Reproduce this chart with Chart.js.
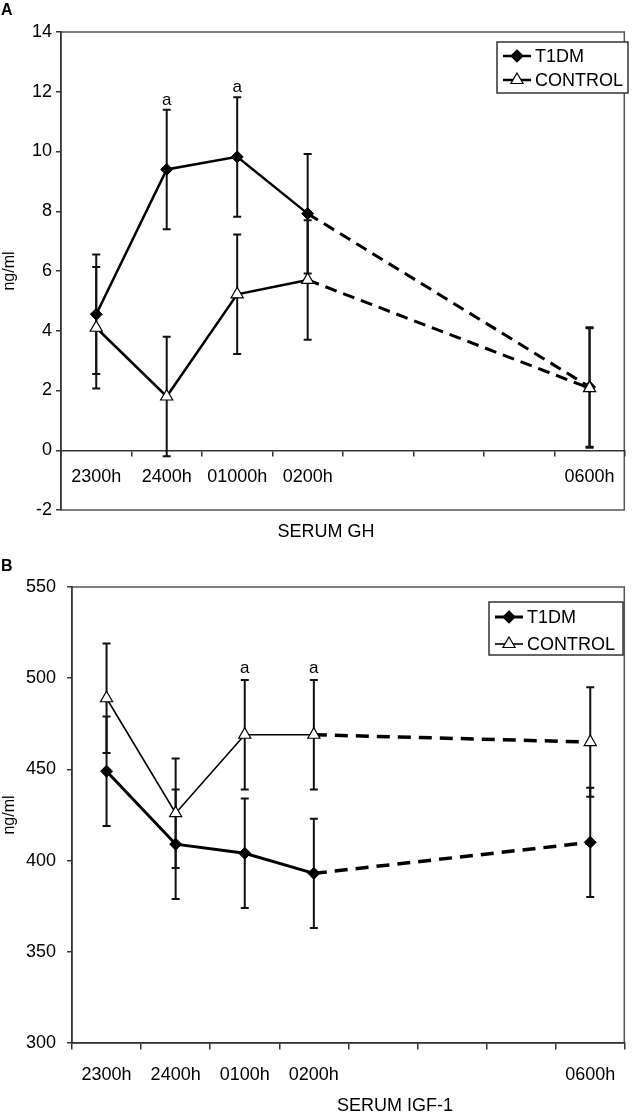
<!DOCTYPE html>
<html>
<head>
<meta charset="utf-8">
<script src="https://cdn.jsdelivr.net/npm/chart.js@4.4.0/dist/chart.umd.min.js"></script>
<style>
html, body { margin: 0; padding: 0; background: #fff; }
#wrap { position: relative; width: 633px; height: 1113px; overflow: hidden; }
.panel { position: absolute; left: 0; width: 633px; }
.tag { position: absolute; left: 1px; font: bold 16px "Liberation Sans", Arial, sans-serif; color: #000; }
</style>
</head>
<body>
<div id="wrap">
  <div class="panel" style="top:0;height:556px"><canvas id="ghChart" width="633" height="556"></canvas></div>
  <div class="panel" style="top:556px;height:557px"><canvas id="igfChart" width="633" height="557"></canvas></div>
  <div class="tag" style="top:1px">A</div>
  <div class="tag" style="top:557px">B</div>
</div>
<script>
// hours 2300h .. 0600h, one category per hour (0300h-0500h unlabeled, no samples)
const ghLabels = ['2300h', '2400h', '01000h', '0200h', '', '', '', '0600h'];
const igfLabels = ['2300h', '2400h', '0100h', '0200h', '', '', '', '0600h'];

const ghT1dm = [4.55, 9.4, 9.82, 7.92, null, null, null, 2.12];
const ghT1dmErr = [2.0, 2.0, 2.0, 2.0, null, null, null, 2.0];
const ghControl = [4.1, 1.8, 5.22, 5.7, null, null, null, 2.08];
const ghControlErr = [2.03, 2.0, 2.0, 2.0, null, null, null, 2.0];
const ghMarks = [null, 'a', 'a', null, null, null, null, null];      // on T1DM

const igfT1dm = [449, 409, 404, 393, null, null, null, 410];
const igfT1dmErr = [30, 30, 30, 30, null, null, null, 30];
const igfControl = [489, 426, 469, 469, null, null, null, 465];
const igfControlErr = [30, 30, 30, 30, null, null, null, 30];
const igfMarks = [null, null, 'a', 'a', null, null, null, null];     // on CONTROL

const FONT = '"Liberation Sans", Arial, sans-serif';

// a segment that jumps over missing hours is drawn dashed
const acrossGap = (data, a, b) => c => (data[c.p1DataIndex - 1] == null ? a : b);

const errorBars = {
    id: 'errorBars',
    beforeDatasetsDraw(chart) {
        const { ctx, scales: { x, y } } = chart;
        ctx.save();
        ctx.strokeStyle = '#111';
        ctx.setLineDash([]);
        chart.data.datasets.forEach(ds => {
            ctx.lineWidth = ds.errWidth || 2;
            const cap = ds.capHalf || 4;
            ds.data.forEach((v, i) => {
                const e = ds.errors ? ds.errors[i] : null;
                if (v == null || e == null) return;
                const px = x.getPixelForValue(i);
                const top = y.getPixelForValue(v + e);
                const bot = y.getPixelForValue(v - e);
                ctx.beginPath();
                ctx.moveTo(px, top); ctx.lineTo(px, bot);
                ctx.moveTo(px - cap, top); ctx.lineTo(px + cap, top);
                ctx.moveTo(px - cap, bot); ctx.lineTo(px + cap, bot);
                ctx.stroke();
            });
        });
        ctx.restore();
    },
    afterDatasetsDraw(chart) {
        const { ctx, scales: { x, y } } = chart;
        ctx.save();
        ctx.fillStyle = '#000';
        ctx.font = '17px ' + FONT;
        ctx.textAlign = 'center';
        ctx.textBaseline = 'alphabetic';
        chart.data.datasets.forEach(ds => {
            if (!ds.marks) return;
            ds.marks.forEach((m, i) => {
                if (!m) return;
                const px = x.getPixelForValue(i);
                const top = y.getPixelForValue(ds.data[i] + ds.errors[i]);
                ctx.fillText(m, px, top - ds.markGap);
            });
        });
        ctx.restore();
    }
};

function drawSymbol(ctx, style, cx, cy, r) {
    ctx.beginPath();
    if (style === 'rectRot') {
        ctx.moveTo(cx, cy - r); ctx.lineTo(cx + r, cy); ctx.lineTo(cx, cy + r); ctx.lineTo(cx - r, cy);
    } else {
        ctx.moveTo(cx, cy - r); ctx.lineTo(cx + r * 0.87, cy + r * 0.5); ctx.lineTo(cx - r * 0.87, cy + r * 0.5);
    }
    ctx.closePath();
}

const decor = {
    id: 'decor',
    beforeDraw(chart) {
        const { ctx, chartArea: a } = chart;
        ctx.save();
        ctx.strokeStyle = '#555';
        ctx.lineWidth = 1.5;
        ctx.strokeRect(a.left, a.top, a.right - a.left - 0.5, a.bottom - a.top);
        ctx.restore();
    },
    afterDraw(chart, args, opts) {
        const { ctx } = chart;
        ctx.save();
        // axis title
        ctx.fillStyle = '#000';
        ctx.font = '18px ' + FONT;
        ctx.textAlign = 'center';
        ctx.textBaseline = 'middle';
        ctx.fillText(opts.xTitle, opts.xTitleX, opts.xTitleY);
        // legend
        const b = opts.box;
        ctx.fillStyle = '#fff';
        ctx.fillRect(b.x, b.y, b.w, b.h);
        ctx.strokeStyle = '#333';
        ctx.lineWidth = 1.5;
        ctx.strokeRect(b.x, b.y, b.w, b.h);
        chart.data.datasets.forEach((ds, i) => {
            const cy = b.y + b.row0 + i * b.rowGap;
            const x0 = b.x + 6, x1 = b.x + 34;
            ctx.strokeStyle = '#000';
            ctx.lineWidth = ds.borderWidth;
            ctx.beginPath(); ctx.moveTo(x0, cy); ctx.lineTo(x1, cy); ctx.stroke();
            ctx.lineWidth = 1.2;
            ctx.fillStyle = ds.pointBackgroundColor;
            drawSymbol(ctx, ds.pointStyle, (x0 + x1) / 2, cy, ds.pointStyle === 'rectRot' ? 6 : 7);
            ctx.fill(); ctx.stroke();
            ctx.fillStyle = '#000';
            ctx.font = '18px ' + FONT;
            ctx.textAlign = 'left';
            ctx.textBaseline = 'middle';
            ctx.fillText(ds.label, x1 + 4, cy + 1);
        });
        ctx.restore();
    }
};

function axisOpts(cfg) {
    return {
        x: {
            type: 'category',
            position: { y: cfg.min },
            offset: true,
            grid: { offset: true, drawOnChartArea: false, drawTicks: true, tickLength: cfg.xTick, color: '#333', lineWidth: 1.5 },
            border: { color: '#333', width: 1.5 },
            ticks: { color: '#000', font: { family: FONT, size: 18 }, padding: cfg.xPad, maxRotation: 0, autoSkip: false }
        },
        y: {
            min: cfg.yMin, max: cfg.yMax,
            grid: { drawOnChartArea: false, drawTicks: true, tickLength: 5, color: '#333', lineWidth: 1.5 },
            border: { color: '#333', width: 1.5 },
            ticks: { stepSize: cfg.step, color: '#000', font: { family: FONT, size: 18 }, padding: cfg.yPad },
            title: { display: true, text: 'ng/ml', color: '#000', font: { family: FONT, size: 16 }, padding: 0 },
            afterFit(scale) { scale.width = cfg.yWidth; }
        }
    };
}

function initGhChart() {
    const ctx = document.getElementById('ghChart').getContext('2d');
    new Chart(ctx, {
        type: 'line',
        data: {
            labels: ghLabels,
            datasets: [{
                label: 'T1DM', data: ghT1dm, errors: ghT1dmErr, marks: ghMarks, markGap: 5, order: 1,
                borderColor: '#000', borderWidth: 2.5, spanGaps: true,
                segment: { borderDash: acrossGap(ghT1dm, [12, 7], undefined), borderWidth: acrossGap(ghT1dm, 3, 2.5) },
                pointStyle: 'rectRot', pointRadius: 6, pointBackgroundColor: '#000', pointBorderColor: '#000', pointBorderWidth: 1,
                errWidth: 2, capHalf: 4
            }, {
                label: 'CONTROL', data: ghControl, errors: ghControlErr, order: 0,
                borderColor: '#000', borderWidth: 2.5, spanGaps: true,
                segment: { borderDash: acrossGap(ghControl, [12, 7], undefined), borderWidth: acrossGap(ghControl, 3, 2.5) },
                pointStyle: 'triangle', pointRadius: 7, pointBackgroundColor: '#fff', pointBorderColor: '#000', pointBorderWidth: 1.2,
                errWidth: 2, capHalf: 4
            }]
        },
        options: {
            responsive: false,
            animation: false,
            layout: { padding: { top: 32, right: 1, bottom: 46, left: 0 } },
            plugins: {
                legend: { display: false },
                tooltip: { enabled: false },
                decor: { xTitle: 'SERUM GH', xTitleX: 326, xTitleY: 532, box: { x: 497, y: 42, w: 131, h: 51, row0: 14, rowGap: 24 } }
            },
            scales: axisOpts({ min: 0, yMin: -2, yMax: 14, step: 2, xTick: 5, xPad: 11, yPad: 4, yWidth: 61 })
        },
        plugins: [errorBars, decor]
    });
}

function initIgfChart() {
    const ctx = document.getElementById('igfChart').getContext('2d');
    new Chart(ctx, {
        type: 'line',
        data: {
            labels: igfLabels,
            datasets: [{
                label: 'T1DM', data: igfT1dm, errors: igfT1dmErr,
                borderColor: '#000', borderWidth: 3, spanGaps: true,
                segment: { borderDash: acrossGap(igfT1dm, [13, 8], undefined), borderWidth: acrossGap(igfT1dm, 3.5, 3) },
                pointStyle: 'rectRot', pointRadius: 6, pointBackgroundColor: '#000', pointBorderColor: '#000', pointBorderWidth: 1,
                errWidth: 2, capHalf: 4
            }, {
                label: 'CONTROL', data: igfControl, errors: igfControlErr, marks: igfMarks, markGap: 7,
                borderColor: '#000', borderWidth: 1.6, spanGaps: true,
                segment: { borderDash: acrossGap(igfControl, [13, 8], undefined), borderWidth: acrossGap(igfControl, 3.5, 1.6) },
                pointStyle: 'triangle', pointRadius: 7, pointBackgroundColor: '#fff', pointBorderColor: '#000', pointBorderWidth: 1.2,
                errWidth: 2, capHalf: 4
            }]
        },
        options: {
            responsive: false,
            animation: false,
            layout: { padding: { top: 31, right: 1, bottom: 70, left: 0 } },
            plugins: {
                legend: { display: false },
                tooltip: { enabled: false },
                decor: { xTitle: 'SERUM IGF-1', xTitleX: 395, xTitleY: 550, box: { x: 489, y: 46, w: 134, h: 53, row0: 15, rowGap: 27 } }
            },
            scales: axisOpts({ min: 300, yMin: 300, yMax: 550, step: 50, xTick: 6, xPad: 15, yPad: 11, yWidth: 72 })
        },
        plugins: [errorBars, decor]
    });
}

document.addEventListener('DOMContentLoaded', function () {
    initGhChart();
    initIgfChart();
});
</script>
</body>
</html>
